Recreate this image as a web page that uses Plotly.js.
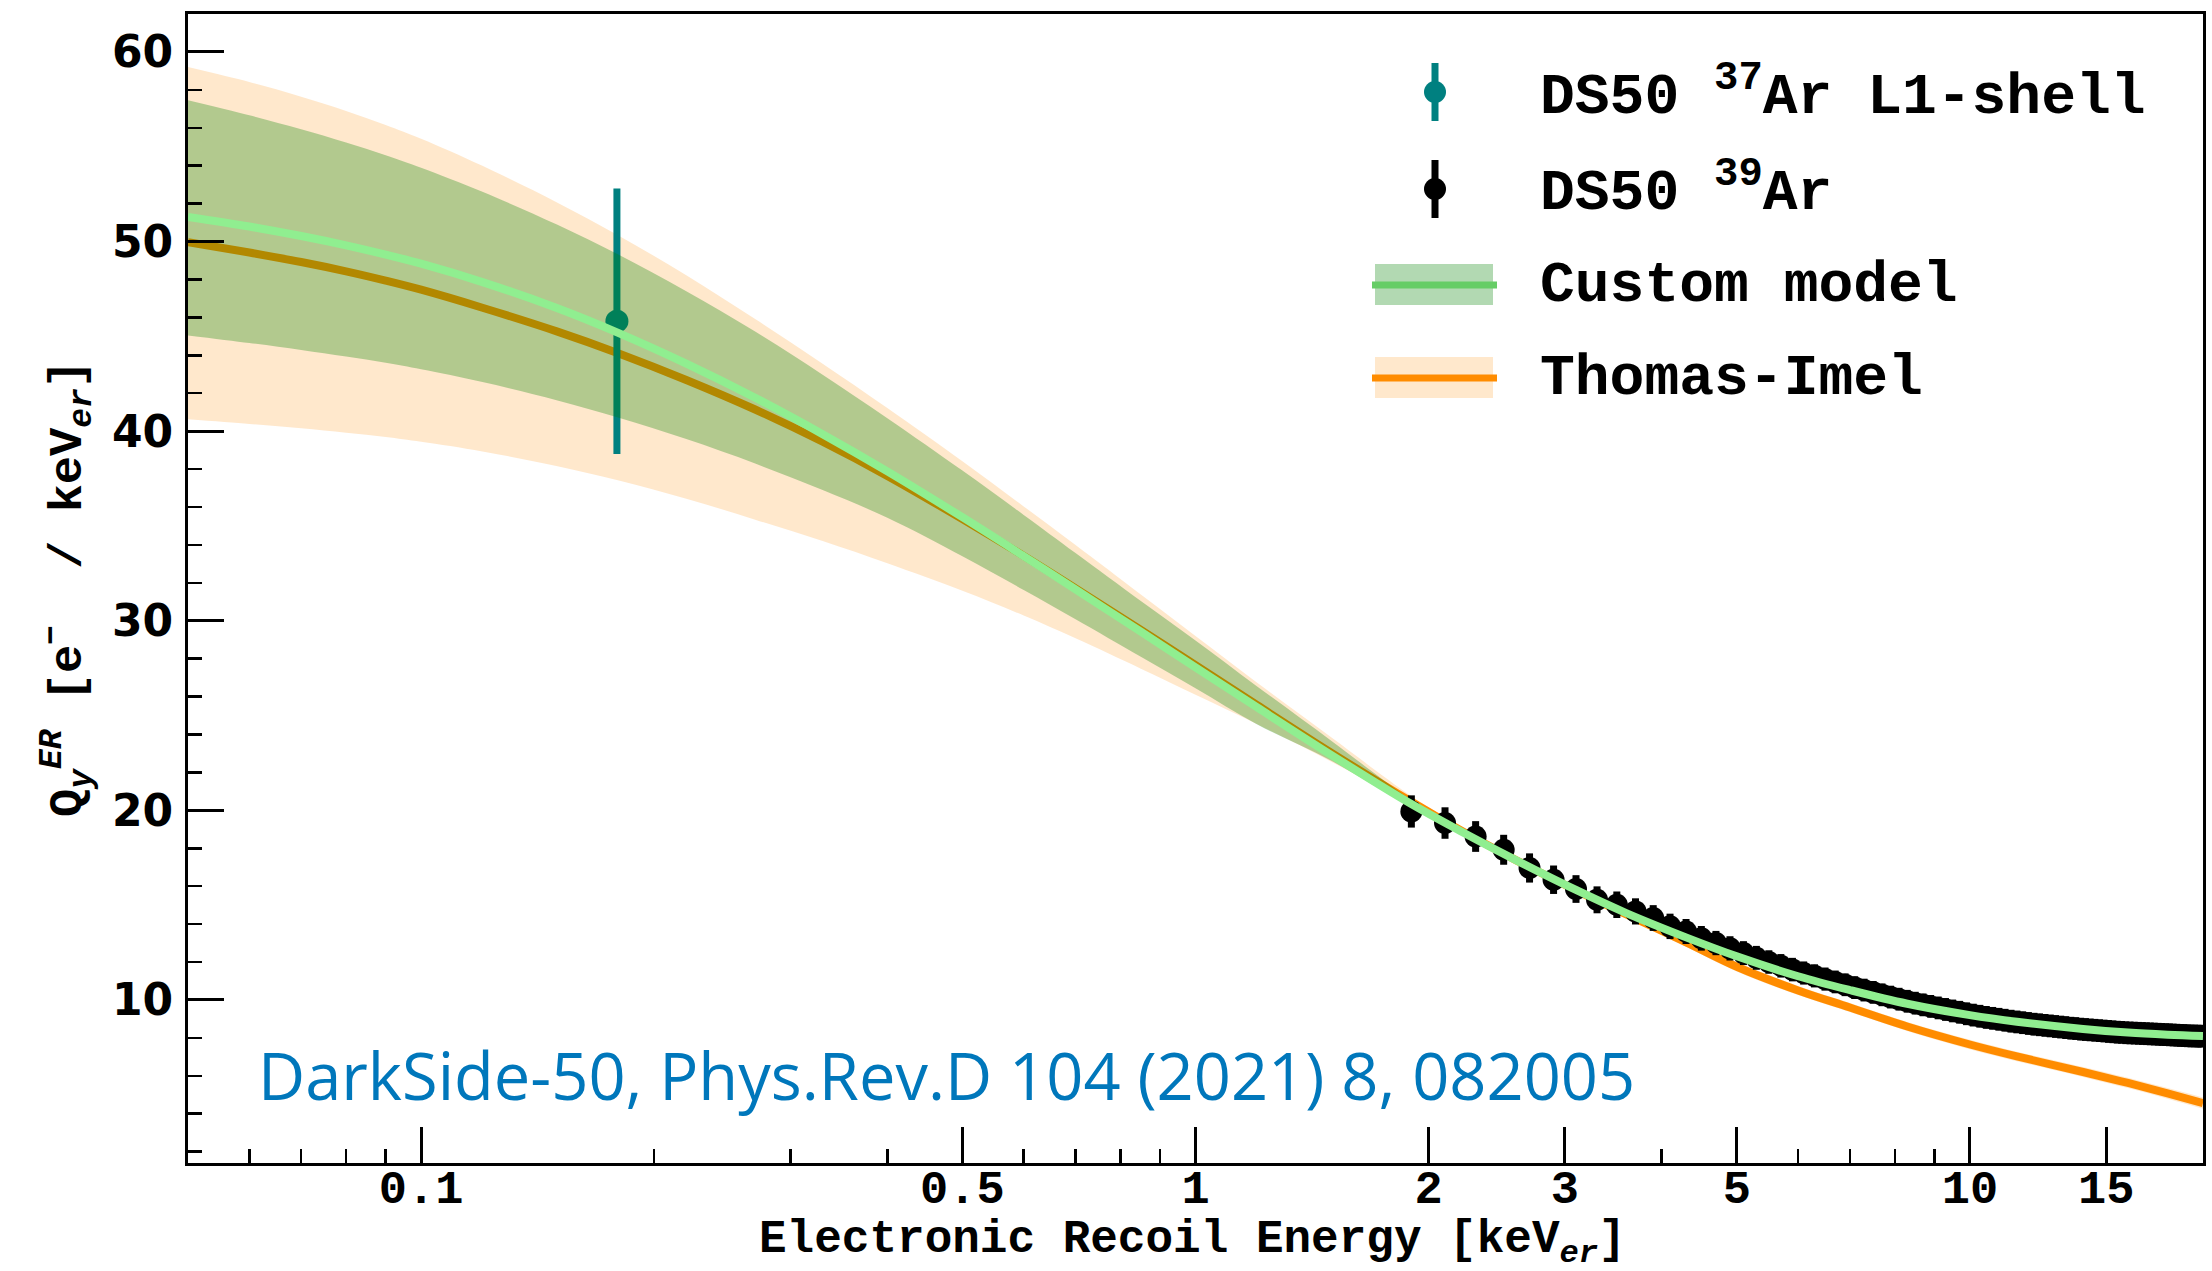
<!DOCTYPE html>
<html><head><meta charset="utf-8">
<script src="https://cdn.plot.ly/plotly-3.0.1.min.js"></script>
<style>html,body{margin:0;padding:0;background:#fff;} #chart{width:2212px;height:1271px;}</style>
</head><body><div id="chart"></div>
<script>
// ---------------- data ----------------
const modelE   = [0.05,0.06,0.07,0.08,0.09,0.1,0.12,0.15,0.18,0.22,0.27,0.33,0.4,0.5,0.6,0.7,0.85,1.0,1.2,1.5,1.9,2.2,2.6,3.1,3.6,4.3,5.0,6.0,7.0,8.3,10,11.5,14,16,18,20];
const customQy = [51.3,50.79,50.29,49.8,49.31,48.83,47.86,46.48,45.17,43.56,41.76,39.84,37.88,35.46,33.41,31.65,29.42,27.54,25.44,22.9,20.33,18.9,17.35,15.8,14.58,13.3,12.3,11.25,10.52,9.8,9.2,8.85,8.47,8.28,8.17,8.1];
const customHi = [57.45,56.66,55.92,55.22,54.55,53.89,52.62,50.88,49.3,47.38,45.25,42.98,40.68,37.92,35.58,33.57,31.04,28.96,26.55,23.65,20.55,19.02,17.46,15.9,14.68,13.4,12.4,11.35,10.62,9.9,9.3,8.95,8.57,8.38,8.27,8.2];
const customLo = [45.05,44.65,44.28,43.93,43.6,43.26,42.59,41.62,40.71,39.58,38.29,36.89,35.43,33.4,31.62,30.08,28.1,26.44,24.54,22.6,20.15,18.78,17.24,15.7,14.48,13.2,12.2,11.15,10.42,9.7,9.1,8.75,8.37,8.18,8.07,8.0];
const thomasQy = [49.97,49.42,48.92,48.43,47.94,47.46,46.51,45.25,44.1,42.7,41.14,39.44,37.64,35.36,33.42,31.71,29.52,27.66,25.56,23.02,20.45,18.95,17.35,15.78,14.51,13.04,11.75,10.5,9.6,8.6,7.65,7.02,6.2,5.62,5.07,4.56];
const thomasHi = [59.2,58.41,57.64,56.89,56.15,55.42,53.99,52.05,50.31,48.22,45.91,43.56,41.22,38.41,36.03,33.99,31.38,29.19,26.74,23.83,20.75,19.15,17.55,15.98,14.73,13.27,12.0,10.74,9.84,8.84,7.9,7.27,6.46,5.89,5.35,4.86];
const thomasLo = [40.62,40.38,40.15,39.92,39.69,39.44,38.93,38.15,37.4,36.44,35.33,34.2,33.03,31.58,30.27,29.07,27.47,26.09,24.55,22.55,20.25,18.75,17.15,15.58,14.29,12.81,11.5,10.26,9.36,8.36,7.4,6.77,5.94,5.35,4.79,4.26];

const ar37E   = [0.179];
const ar37Qy  = [45.8];
const ar37Err = [7.0];

const ar39E = [1.9,2.1,2.3,2.5,2.7,2.9,3.1,3.3,3.5,3.7,3.9,4.1,4.3,4.5,4.7,4.9,5.1,5.3,5.5,5.7,5.9,6.1,6.3,6.5,6.7,6.9,7.1,7.3,7.5,7.7,7.9,8.1,8.3,8.5,8.7,8.9,9.1,9.3,9.5,9.7,9.9,10.1,10.3,10.5,10.7,10.9,11.1,11.3,11.5,11.7,11.9,12.1,12.3,12.5,12.7,12.9,13.1,13.3,13.5,13.7,13.9,14.1,14.3,14.5,14.7,14.9,15.1,15.3,15.5,15.7,15.9,16.1,16.3,16.5,16.7,16.9,17.1,17.3,17.5,17.7,17.9,18.1,18.3,18.5,18.7,18.9,19.1,19.3,19.5,19.7,19.9];
const ar39Qy = [19.94,19.33,18.62,17.92,16.96,16.34,15.85,15.28,15.02,14.67,14.32,13.88,13.61,13.25,13.0,12.72,12.47,12.22,12.0,11.8,11.6,11.42,11.27,11.1,10.95,10.8,10.65,10.52,10.4,10.27,10.15,10.04,9.93,9.83,9.74,9.66,9.58,9.5,9.42,9.35,9.27,9.2,9.14,9.08,9.03,8.98,8.93,8.88,8.84,8.8,8.76,8.72,8.69,8.66,8.63,8.6,8.57,8.54,8.51,8.49,8.46,8.44,8.42,8.4,8.38,8.36,8.34,8.32,8.3,8.29,8.27,8.26,8.25,8.24,8.23,8.22,8.21,8.2,8.19,8.18,8.17,8.16,8.15,8.14,8.13,8.12,8.11,8.1,8.1,8.09,8.09];
const ar39Err = [0.85,0.83,0.81,0.79,0.77,0.75,0.73,0.71,0.7,0.69,0.68,0.67,0.66,0.65,0.64,0.64,0.63,0.63,0.62,0.62,0.62,0.61,0.61,0.61,0.6,0.6,0.6,0.6,0.6,0.6,0.6,0.6,0.6,0.6,0.6,0.6,0.6,0.6,0.6,0.6,0.6,0.6,0.6,0.6,0.6,0.6,0.6,0.6,0.6,0.6,0.6,0.6,0.6,0.6,0.6,0.6,0.6,0.6,0.6,0.6,0.6,0.6,0.6,0.6,0.6,0.6,0.6,0.6,0.6,0.6,0.6,0.6,0.6,0.6,0.6,0.6,0.6,0.6,0.6,0.6,0.6,0.6,0.6,0.6,0.6,0.6,0.6,0.6,0.6,0.6,0.6];

const xTickVals  = [0.1,0.5,1,2,3,5,10,15];
const xTickText  = ['0.1','0.5','1','2','3','5','10','15'];
const xMinorVals = [0.06,0.07,0.08,0.09,0.2,0.3,0.4,0.6,0.7,0.8,0.9,4,6,7,8,9];
const yTickVals  = [10,20,30,40,50,60];

const legendNames = ['DS50 <sup>37</sup>Ar L1-shell','DS50 <sup>39</sup>Ar','Custom model','Thomas-Imel'];
const xTitle = 'Electronic Recoil Energy [keV<sub><i>er</i></sub>]';
const yTitle = 'Q<sub><i>y</i></sub><sup><i>ER</i></sup> [e<sup>\u2212</sup>  / keV<sub><i>er</i></sub>]';
const citation = 'DarkSide-50, Phys.Rev.D 104 (2021) 8, 082005';

// ---------------- styling ----------------
const MONO = 'Liberation Mono, Courier New, monospace';
const ORANGE = '#ff8c00', ORANGE_BAND = 'rgba(255,140,0,0.2)';
const GREEN_LINE = '#90ee90', GREEN_BAND = 'rgba(0,128,0,0.3)';
const TEAL = '#008080';

const traces = [
  {x: modelE, y: thomasLo, mode:'lines', line:{width:0, shape:'spline'}, showlegend:false, hoverinfo:'skip'},
  {x: modelE, y: thomasHi, mode:'lines', line:{width:0, shape:'spline'}, fill:'tonexty', fillcolor: ORANGE_BAND, showlegend:false, hoverinfo:'skip'},
  {x: modelE, y: thomasQy, mode:'lines', line:{color: ORANGE, width:8, shape:'spline'}, name: legendNames[3], showlegend:false},
  {x: ar37E, y: ar37Qy, mode:'markers', marker:{color: TEAL, size:23},
   error_y:{type:'data', array: ar37Err, color: TEAL, thickness:7, width:0}, name: legendNames[0], showlegend:false},
  {x: ar39E, y: ar39Qy, mode:'markers', marker:{color:'#000', size:22},
   error_y:{type:'data', array: ar39Err, color:'#000', thickness:7, width:0}, name: legendNames[1], showlegend:false},
  {x: modelE, y: customLo, mode:'lines', line:{width:0, shape:'spline'}, showlegend:false, hoverinfo:'skip'},
  {x: modelE, y: customHi, mode:'lines', line:{width:0, shape:'spline'}, fill:'tonexty', fillcolor: GREEN_BAND, showlegend:false, hoverinfo:'skip'},
  {x: modelE, y: customQy, mode:'lines', line:{color: GREEN_LINE, width:8, shape:'spline'}, name: legendNames[2], showlegend:false}
];

// page geometry
const W = 2212, H = 1271, ML = 188, MR = 9, MT = 14, MB = 108;
const PW = W - ML - MR, PH = H - MT - MB;
const PX = X => (X - ML) / PW;
const PY = Y => (H - MB - Y) / PH;

// hand-built legend (band + line symbols like the reference)
const shapes = [];
const annotations = [];
const legX0 = 1375, legX1 = 1493, legXc = 1435, legText = 1538;
const rowY = [92, 189, 285, 378];
shapes.push({type:'line', xref:'paper', yref:'paper', x0:PX(legXc), x1:PX(legXc), y0:PY(rowY[0]-29), y1:PY(rowY[0]+29), line:{color:TEAL, width:7}});
shapes.push({type:'circle', xref:'paper', yref:'paper', x0:PX(legXc-11), x1:PX(legXc+11), y0:PY(rowY[0]-11), y1:PY(rowY[0]+11), fillcolor:TEAL, line:{width:0}});
shapes.push({type:'line', xref:'paper', yref:'paper', x0:PX(legXc), x1:PX(legXc), y0:PY(rowY[1]-29), y1:PY(rowY[1]+29), line:{color:'#000', width:7}});
shapes.push({type:'circle', xref:'paper', yref:'paper', x0:PX(legXc-11), x1:PX(legXc+11), y0:PY(rowY[1]-11), y1:PY(rowY[1]+11), fillcolor:'#000', line:{width:0}});
shapes.push({type:'rect', xref:'paper', yref:'paper', x0:PX(legX0), x1:PX(legX1), y0:PY(rowY[2]-21), y1:PY(rowY[2]+20), fillcolor:GREEN_BAND, line:{width:0}});
shapes.push({type:'line', xref:'paper', yref:'paper', x0:PX(legX0-3), x1:PX(legX1+4), y0:PY(rowY[2]), y1:PY(rowY[2]), line:{color:'#66cd66', width:7}});
shapes.push({type:'rect', xref:'paper', yref:'paper', x0:PX(legX0), x1:PX(legX1), y0:PY(rowY[3]-21), y1:PY(rowY[3]+20), fillcolor:ORANGE_BAND, line:{width:0}});
shapes.push({type:'line', xref:'paper', yref:'paper', x0:PX(legX0-3), x1:PX(legX1+4), y0:PY(rowY[3]), y1:PY(rowY[3]), line:{color:ORANGE, width:7}});

legendNames.forEach((t, i) => {
  annotations.push({xref:'paper', yref:'paper', x:PX(legText), y:PY(rowY[i]), xanchor:'left', yanchor:'middle',
    text:t, showarrow:false, font:{family:MONO, size:58, weight:'bold', color:'#000'}});
});
annotations.push({xref:'paper', yref:'paper', x:PX(256), y:PY(1075), xanchor:'left', yanchor:'middle',
  text: citation, showarrow:false, font:{family:'Open Sans, Noto Sans, sans-serif', size:65, color:'#0077bb'}});
// x-axis title, below the tick labels as in the reference
annotations.push({xref:'paper', yref:'paper', x:PX(1192), y:PY(1243), xanchor:'center', yanchor:'middle',
  text: xTitle, showarrow:false, borderpad:0, font:{family:MONO, size:46, weight:'bold', color:'#000'}});

const layout = {
  width: W, height: H,
  margin:{l:ML, r:MR, t:MT, b:MB, pad:0},
  paper_bgcolor:'#fff', plot_bgcolor:'#fff',
  showlegend:false,
  xaxis:{
    type:'log', range:[Math.log10(0.05), Math.log10(20)],
    tickmode:'array', tickvals:xTickVals, ticktext:xTickText,
    ticks:'inside', ticklen:36, tickwidth:3, tickcolor:'#000',
    minor:{tickmode:'array', tickvals:xMinorVals, ticks:'inside', ticklen:14, tickwidth:2.5, tickcolor:'#000', showgrid:false},
    showline:true, linewidth:3, linecolor:'#000', mirror:true,
    showgrid:false, zeroline:false,
    tickfont:{family:MONO, size:47, weight:'bold', color:'#000'},
    ticklabelstandoff:-19,
    automargin:false
  },
  yaxis:{
    range:[1.4, 62],
    tickmode:'array', tickvals:yTickVals,
    ticks:'inside', ticklen:36, tickwidth:3, tickcolor:'#000',
    minor:{dtick:2, tick0:0, ticks:'inside', ticklen:14, tickwidth:2.5, tickcolor:'#000', showgrid:false},
    showline:true, linewidth:3, linecolor:'#000', mirror:true,
    showgrid:false, zeroline:false,
    tickfont:{family:'DejaVu Sans, Verdana, sans-serif', size:44, weight:'bold', color:'#000'},
    ticklabelstandoff:3,
    title:{text: yTitle, font:{family:MONO, size:47, weight:'bold', color:'#000'}, standoff:16},
    automargin:false
  },
  shapes: shapes,
  annotations: annotations
};

Plotly.newPlot('chart', traces, layout, {displayModeBar:false, staticPlot:true});
</script>
</body></html>
